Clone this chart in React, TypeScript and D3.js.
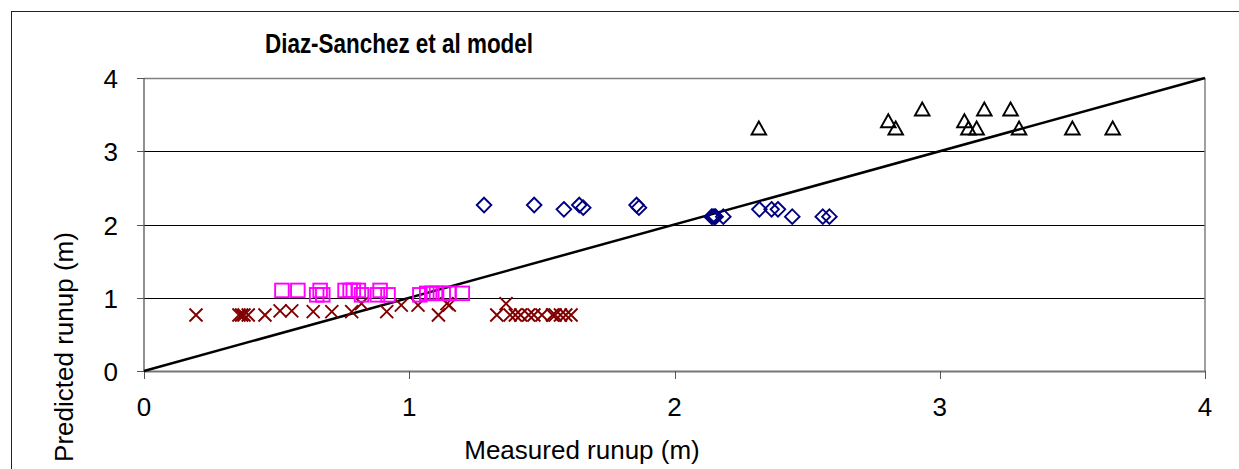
import React from "react";
import * as d3 from "d3";

const W = 1239;
const H = 469;

const xTicks = [0, 1, 2, 3, 4];
const yTicks = [0, 1, 2, 3, 4];

const crossX = [0.196, 0.358, 0.368, 0.377, 0.393, 0.456, 0.513, 0.557, 0.638, 0.708, 0.783, 0.82, 0.915, 0.97, 1.033, 1.11, 1.142, 1.151, 1.33, 1.365, 1.38, 1.40, 1.42, 1.45, 1.47, 1.50, 1.54, 1.55, 1.57, 1.59, 1.61];
const crossY = [0.765, 0.765, 0.765, 0.765, 0.765, 0.765, 0.82, 0.82, 0.81, 0.81, 0.81, 0.92, 0.81, 0.9, 0.9, 0.765, 0.92, 0.9, 0.765, 0.92, 0.765, 0.765, 0.765, 0.765, 0.765, 0.765, 0.765, 0.765, 0.765, 0.765, 0.765];

const squareX = [0.52, 0.58, 0.664, 0.651, 0.674, 0.758, 0.777, 0.789, 0.808, 0.82, 0.89, 0.88, 0.92, 1.04, 1.066, 1.085, 1.103, 1.128, 1.15, 1.2];
const squareY = [1.1, 1.1, 1.1, 1.04, 1.04, 1.1, 1.1, 1.1, 1.1, 1.04, 1.1, 1.04, 1.04, 1.04, 1.06, 1.06, 1.06, 1.06, 1.06, 1.06];

const diamondX = [1.282, 1.471, 1.583, 1.641, 1.656, 1.857, 1.866, 2.14, 2.145, 2.15, 2.155, 2.184, 2.32, 2.366, 2.39, 2.444, 2.559, 2.584];
const diamondY = [2.266, 2.266, 2.207, 2.266, 2.23, 2.266, 2.23, 2.107, 2.107, 2.107, 2.107, 2.107, 2.207, 2.207, 2.207, 2.107, 2.107, 2.107];

const triX = [2.318, 2.806, 2.834, 2.934, 3.093, 3.108, 3.139, 3.168, 3.267, 3.299, 3.5, 3.652];
const triY = [3.31, 3.41, 3.31, 3.57, 3.41, 3.31, 3.31, 3.57, 3.57, 3.31, 3.31, 3.31];

const lineX = [0, 4];
const lineY = [0, 4];

export default function App() {
  const x = d3.scaleLinear().domain([0, 4]).range([144, 1205]);
  const y = d3.scaleLinear().domain([0, 4]).range([371, 78]);
  const lineGen = d3.line<number>().x((d) => x(d)).y((_, i) => y(lineY[i]));
  const font = "Liberation Sans, Arial, sans-serif";

  return (
    <svg width={W} height={H} style={{ position: "absolute", left: 0, top: 0, background: "#fff" }}>
      <rect x={0} y={0} width={W} height={H} fill="#fff" />
      <rect x={11.5} y={11.5} width={1240} height={480} fill="none" stroke="#222" strokeWidth={1} />
      <text x={265} y={53} textAnchor="start" fontFamily={font} fontWeight="bold" fontSize={27} textLength={268} lengthAdjust="spacingAndGlyphs">
        Diaz-Sanchez et al model
      </text>
      {/* gridlines */}
      {yTicks.slice(1, 4).map((t) => (
        <line key={"g" + t} x1={x(0)} x2={x(4)} y1={Math.round(y(t)) + 0.5} y2={Math.round(y(t)) + 0.5} stroke="#000" strokeWidth={1} />
      ))}
      {/* plot frame */}
      <line x1={x(0)} x2={x(4)} y1={78.5} y2={78.5} stroke="#808080" strokeWidth={1.5} />
      <line x1={1205} x2={1205} y1={78} y2={371} stroke="#808080" strokeWidth={1.5} />
      <line x1={x(0)} x2={x(4) + 1} y1={371.5} y2={371.5} stroke="#777" strokeWidth={2} />
      <line x1={144} x2={144} y1={78} y2={372} stroke="#555" strokeWidth={1.3} />
      {/* ticks */}
      {yTicks.map((t) => (
        <line key={"yt" + t} x1={137} x2={144} y1={Math.round(y(t)) + 0.5} y2={Math.round(y(t)) + 0.5} stroke="#555" strokeWidth={1} />
      ))}
      {xTicks.map((t) => (
        <line key={"xt" + t} x1={Math.round(x(t)) + 0.5} x2={Math.round(x(t)) + 0.5} y1={371} y2={379} stroke="#555" strokeWidth={1} />
      ))}
      {yTicks.map((t) => (
        <text key={"yl" + t} x={118} y={y(t) + 10} textAnchor="end" fontFamily={font} fontSize={26}>
          {t}
        </text>
      ))}
      {xTicks.map((t) => (
        <text key={"xl" + t} x={x(t)} y={416} textAnchor="middle" fontFamily={font} fontSize={26}>
          {t}
        </text>
      ))}
      <text x={582} y={459} textAnchor="middle" fontFamily={font} fontSize={26}>
        Measured runup (m)
      </text>
      <text transform="translate(73,347) rotate(-90)" textAnchor="middle" fontFamily={font} fontSize={26}>
        Predicted runup (m)
      </text>
      {/* 1:1 line */}
      <path d={lineGen(lineX) || ""} fill="none" stroke="#000" strokeWidth={2.5} />
      {/* crosses */}
      {crossX.map((v, i) => {
        const cx = x(v), cy = y(crossY[i]), s = 6.5;
        return (
          <path key={"c" + i} d={`M${cx - s},${cy - s}L${cx + s},${cy + s}M${cx - s},${cy + s}L${cx + s},${cy - s}`} stroke="#800000" strokeWidth={1.9} fill="none" />
        );
      })}
      {/* squares */}
      {squareX.map((v, i) => {
        const cx = x(v), cy = y(squareY[i]), s = 6.8;
        return <rect key={"s" + i} x={cx - s} y={cy - s} width={2 * s} height={2 * s} fill="none" stroke="#FF00FF" strokeWidth={1.9} />;
      })}
      {/* diamonds */}
      {diamondX.map((v, i) => {
        const cx = x(v), cy = y(diamondY[i]), s = 7.3;
        return <path key={"d" + i} d={`M${cx},${cy - s}L${cx + s},${cy}L${cx},${cy + s}L${cx - s},${cy}Z`} fill="none" stroke="#000080" strokeWidth={1.9} />;
      })}
      {/* triangles */}
      {triX.map((v, i) => {
        const cx = x(v), cy = y(triY[i]);
        return <path key={"t" + i} d={`M${cx},${cy - 7}L${cx + 7.3},${cy + 6}L${cx - 7.3},${cy + 6}Z`} fill="none" stroke="#000" strokeWidth={1.9} />;
      })}
    </svg>
  );
}
